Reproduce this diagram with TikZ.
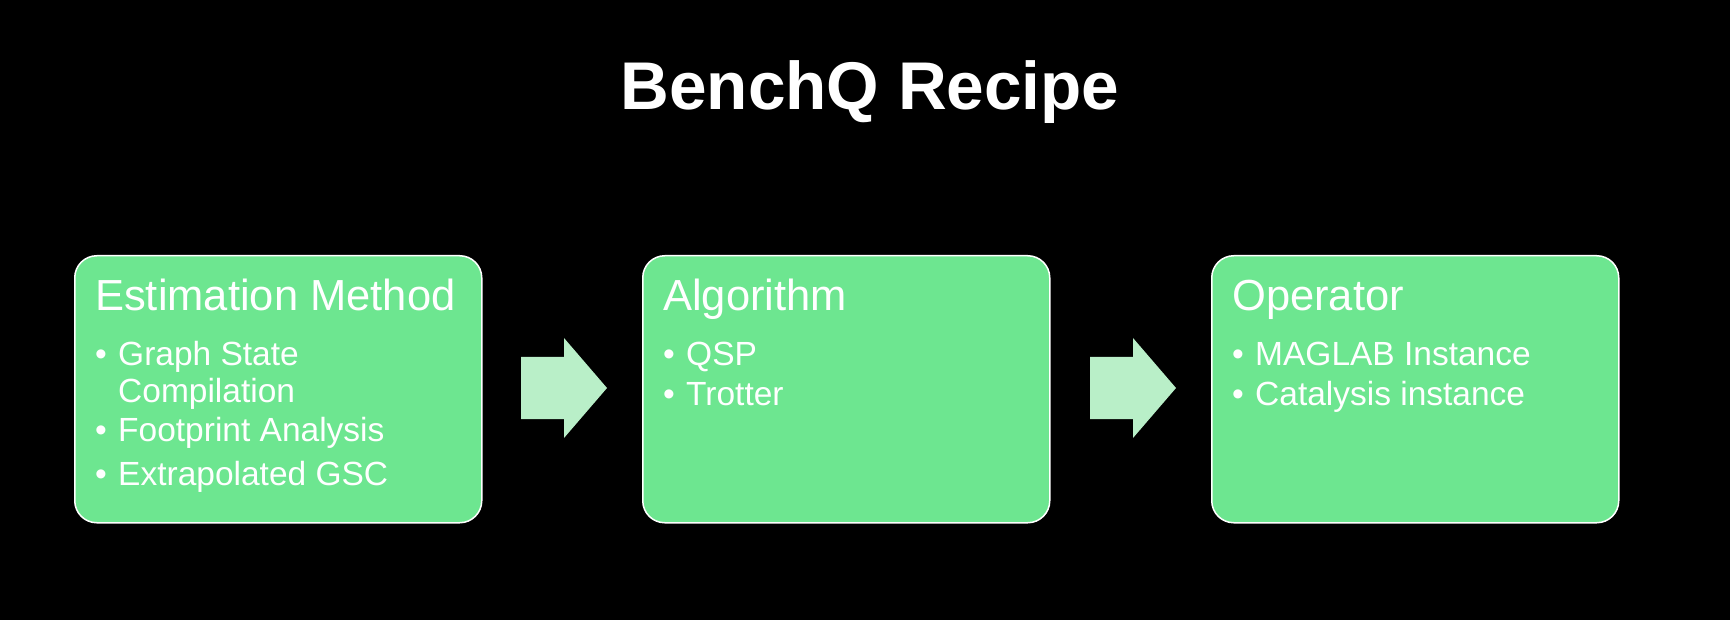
\documentclass[tikz,border=0pt]{standalone}
\usepackage{fontspec}
\setmainfont{Liberation Sans}
\definecolor{boxgreen}{HTML}{6DE690}
\definecolor{arrowgreen}{HTML}{B9EFC8}
\begin{document}
\begin{tikzpicture}[x=1pt,y=-1pt,
  card/.style={draw=white, line width=1.5pt, fill=boxgreen, rounded corners=22pt,
    minimum width=407pt, minimum height=267pt, inner sep=0pt, anchor=north west},
  head/.style={text=white, font=\fontsize{43.5}{50}\selectfont, anchor=base west, inner sep=0pt},
  item/.style={text=white, font=\fontsize{33.5}{40}\selectfont, anchor=base west, inner sep=0pt},
  dot/.style={text=white, font=\fontsize{33.5}{40}\selectfont, anchor=base, inner sep=0pt},
  blockarrow/.style={fill=arrowgreen}]
\fill[black] (0,0) rectangle (1730,620);
\useasboundingbox (0,0) rectangle (1730,620);

\node[text=white, font=\fontsize{67.5}{75}\bfseries\selectfont, anchor=base, inner sep=0pt] (title) at (870,110) {BenchQ Recipe};

% boxes
\node[card] (b1) at (74,255) {};
\node[card] (b2) at (642,255) {};
\node[card] (b3) at (1211,255) {};

% box 1
\node[head] (h1) at (95,311) {Estimation Method};
\node[dot] (d11) at (101,366) {•};
\node[item] (i11) at (118,366) {Graph State};
\node[item] (i11b) at (118,402) {Compilation};
\node[dot] (d12) at (101,441) {•};
\node[item] (i12) at (118,441) {Footprint Analysis};
\node[dot] (d13) at (101,485) {•};
\node[item] (i13) at (118,485) {Extrapolated GSC};

% box 2
\node[head] (h2) at (663,311) {Algorithm};
\node[dot] (d21) at (669,366) {•};
\node[item] (i21) at (686,366) {QSP};
\node[dot] (d22) at (669,405) {•};
\node[item] (i22) at (686,405) {Trotter};

% box 3
\node[head] (h3) at (1232,311) {Operator};
\node[dot] (d31) at (1238,366) {•};
\node[item] (i31) at (1255,366) {MAGLAB Instance};
\node[dot] (d32) at (1238,405) {•};
\node[item] (i32) at (1255,405) {Catalysis instance};

% block arrows
\fill[blockarrow] (521,357) -- (564,357) -- (564,338) -- (607,388) -- (564,438) -- (564,419) -- (521,419) -- cycle;
\fill[blockarrow] (1090,357) -- (1133,357) -- (1133,338) -- (1176,388) -- (1133,438) -- (1133,419) -- (1090,419) -- cycle;
\end{tikzpicture}
\end{document}
